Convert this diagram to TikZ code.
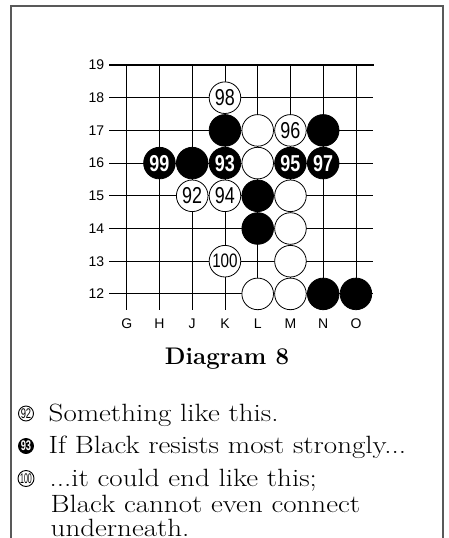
\documentclass[tikz,border=0pt]{standalone}
\usepackage{fontspec}
\newfontfamily\labfont{Liberation Sans}
\newfontfamily\stonefont[FakeStretch=0.78]{Liberation Sans}
\newfontfamily\markfont[FakeStretch=0.67]{Liberation Sans}
\newfontfamily\narrowfont[FakeStretch=0.5]{Liberation Sans}
\begin{document}
\begin{tikzpicture}[x=1pt,y=-1pt,
  gridline/.style={line width=0.9pt,black},
  edgeline/.style={line width=2.4pt,black},
  frameline/.style={line width=1.2pt,black!65},
  wstone/.style={circle,draw=black,fill=white,minimum size=31.6pt,inner sep=0pt,line width=0.8pt,
     font=\stonefont\fontsize{23}{23}\selectfont},
  wstonec/.style={wstone,font=\stonefont\fontsize{19.5}{19.5}\selectfont},
  bstone/.style={wstone,fill=black,text=white,font=\stonefont\bfseries\fontsize{23}{23}\selectfont},
  coordlab/.style={font=\labfont\fontsize{14}{14}\selectfont,inner sep=0pt},
  body/.style={font=\fontsize{25}{27}\selectfont,inner sep=0pt,anchor=base west},
  title/.style={font=\bfseries\fontsize{24}{24}\selectfont,inner sep=0pt,anchor=base},
  wmark/.style={circle,draw=black,fill=white,minimum size=15pt,inner sep=0pt,line width=0.9pt,
     font=\markfont\fontsize{14}{14}\selectfont},
  wmarkc/.style={wmark,minimum size=16pt,font=\narrowfont\fontsize{14}{14}\selectfont},
  bmark/.style={wmark,fill=black,text=white,font=\markfont\bfseries\fontsize{14}{14}\selectfont}
]
\useasboundingbox (0,0) rectangle (449,538);
% frame
\draw[frameline] (11,538) -- (11,6) -- (443,6) -- (443,538);
% grid
\foreach \i in {0,...,7} \draw[gridline] ({126.7+32.75*\i},65) -- ({126.7+32.75*\i},310);
\foreach \j in {1,...,7} \draw[gridline] (109,{65+32.7*\j}) -- (373,{65+32.7*\j});
\draw[edgeline] (109,65) -- (374,65);
% row labels
\foreach \r [count=\j from 0] in {19,18,17,16,15,14,13,12}
  \node[coordlab,anchor=east] (row\r) at (104.3,{65+32.7*\j}) {\r};
% column labels
\foreach \c [count=\i from 0] in {G,H,J,K,L,M,N,O}
  \node[coordlab,anchor=base] (col\c) at ({126.7+32.75*\i},328.5) {\c};
% stones
\node[wstone] (K18) at (224.95,97.7) {98};
\node[bstone] (K17) at (224.95,130.4) {};
\node[wstone] (L17) at (257.7,130.4) {};
\node[wstone] (M17) at (290.45,130.4) {96};
\node[bstone] (N17) at (323.2,130.4) {};
\node[bstone] (H16) at (159.45,163.1) {99};
\node[bstone] (J16) at (192.2,163.1) {};
\node[bstone] (K16) at (224.95,163.1) {93};
\node[wstone] (L16) at (257.7,163.1) {};
\node[bstone] (M16) at (290.45,163.1) {95};
\node[bstone] (N16) at (323.2,163.1) {97};
\node[wstone] (J15) at (192.2,195.8) {92};
\node[wstone] (K15) at (224.95,195.8) {94};
\node[bstone] (L15) at (257.7,195.8) {};
\node[wstone] (M15) at (290.45,195.8) {};
\node[bstone] (L14) at (257.7,228.5) {};
\node[wstone] (M14) at (290.45,228.5) {};
\node[wstonec] (K13) at (224.95,261.2) {100};
\node[wstone] (M13) at (290.45,261.2) {};
\node[wstone] (L12) at (257.7,293.9) {};
\node[wstone] (M12) at (290.45,293.9) {};
\node[bstone] (N12) at (323.2,293.9) {};
\node[bstone] (O12) at (355.95,293.9) {};
% title
\node[title] (cap) at (227,364) {Diagram 8};
% commentary
\node[wmark] (m92) at (26,413.5) {92};
\node[body] (t1) at (48.5,421) {\scalebox{1.16}[1]{Something like this.}};
\node[bmark] (m93) at (26,446) {93};
\node[body] (t2) at (48.5,453.5) {\scalebox{1.16}[1]{If Black resists most strongly...}};
\node[wmarkc] (m100) at (26,478.5) {100};
\node[body] (t3) at (49.5,486) {\scalebox{1.16}[1]{...it could end like this;}};
\node[body] (t4) at (50.5,512) {\scalebox{1.16}[1]{Black cannot even connect}};
\node[body] (t5) at (50.5,536) {\scalebox{1.16}[1]{underneath.}};
\end{tikzpicture}
\end{document}
